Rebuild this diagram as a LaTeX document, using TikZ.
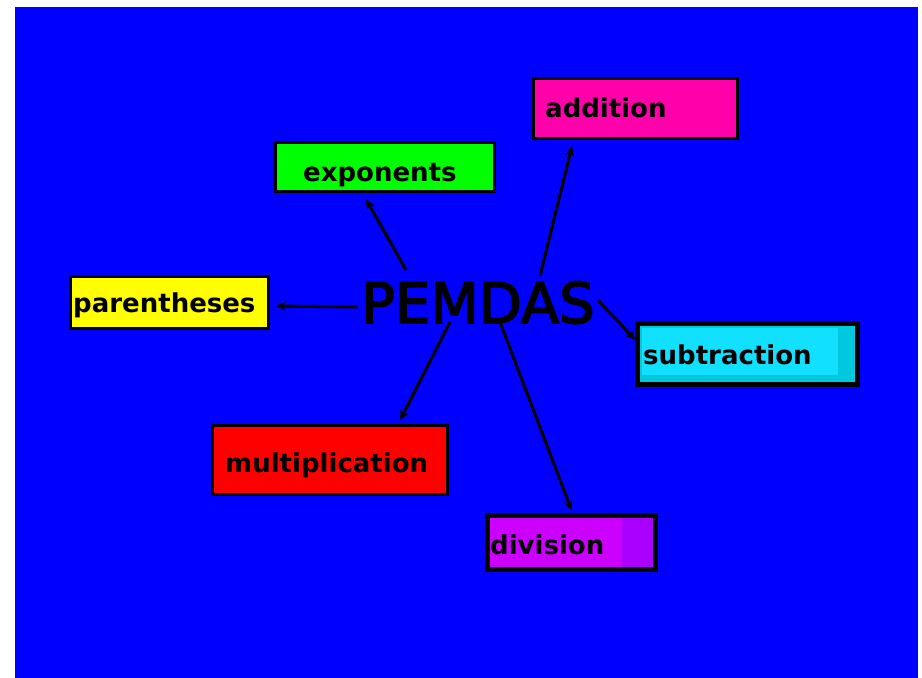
\documentclass[tikz,border=0pt]{standalone}
\usepackage{fontspec}
\setmainfont{DejaVu Sans}
\newfontfamily\pemfont[FakeBold=3]{DejaVu Sans}
\usetikzlibrary{arrows.meta,calc}
\definecolor{bgblue}{RGB}{0,0,255}
\definecolor{addcol}{RGB}{255,0,170}
\definecolor{expcol}{RGB}{0,255,0}
\definecolor{parcol}{RGB}{255,255,0}
\definecolor{subcol}{RGB}{0,200,222}
\definecolor{subin}{RGB}{18,224,255}
\definecolor{mulcol}{RGB}{255,0,0}
\definecolor{divcol}{RGB}{204,0,255}
\definecolor{divband}{RGB}{170,0,255}
\tikzset{
  box/.style={draw=black, line width=3.5pt, inner sep=0pt, rectangle},
  lbl/.style={anchor=base west, inner sep=0pt, font=\fontsize{26}{30}\selectfont\bfseries},
  conn/.style={line width=3pt, -{Stealth[length=10pt,width=9pt]}},
}
\begin{document}
\begin{tikzpicture}[x=1pt,y=1pt]
\useasboundingbox (0,0) rectangle (922,678);
\fill[white] (0,0) rectangle (922,678);
\fill[bgblue] (15,0) rectangle (918,671);

% boxes
\node[box, fill=addcol, minimum width=204pt, minimum height=60pt] (add) at (635.5,569.5) {};
\node[box, fill=expcol, minimum width=219pt, minimum height=49pt] (exp) at (385,511) {};
\node[box, fill=parcol, minimum width=198pt, minimum height=52pt] (par) at (169.5,375.5) {};
\node[box, fill=subcol, minimum width=218pt, minimum height=59pt] (sub) at (747.5,324) {};
\fill[subin] (642,303) rectangle (838,350);
\draw[line width=3.5pt] (sub.south west) rectangle (sub.north east);
\node[box, fill=mulcol, minimum width=235pt, minimum height=69pt] (mul) at (330,218) {};
\node[box, fill=divcol, minimum width=166pt, minimum height=52pt] (div) at (571.5,135.5) {};
\fill[divband] (622,111) rectangle (653,160);
\draw[line width=3.5pt] (div.south west) rectangle (div.north east);

% labels
\node[lbl] (addt) at (545,560) {addition};
\node[lbl] (expt) at (303,496) {exponents};
\node[lbl] (part) at (73,365) {parentheses};
\node[lbl] (subt) at (643,313) {subtraction};
\node[lbl] (mult) at (225,205) {multiplication};
\node[lbl] (divt) at (490,123) {division};
\node[anchor=base west, inner sep=0pt, font=\pemfont\fontsize{56}{60}\selectfont] (pemdas) at (361,355) {PEMDAS};

% connector start points
\coordinate (sExp) at (406,408);
\coordinate (sAdd) at (540,402);
\coordinate (sPar) at (358,371);
\coordinate (sSub) at (598,378);
\coordinate (sMul) at (450,356);
\coordinate (sDiv) at (500,356);

\draw[conn] (sExp) -- ($(exp.south)+(-19,-6)$);
\draw[conn] (sAdd) -- ($(add.south)+(-63.5,-6)$);
\draw[conn] (sPar) -- ($(par.east)+(5.5,-3.5)$);
\draw[conn] (sSub) -- ($(sub.west)+(-1.5,14)$);
\draw[conn] (sMul) -- ($(mul.north)+(70,3.5)$);
\draw[conn] (sDiv) -- ($(div.north)+(0,4.5)$);
\end{tikzpicture}
\end{document}
